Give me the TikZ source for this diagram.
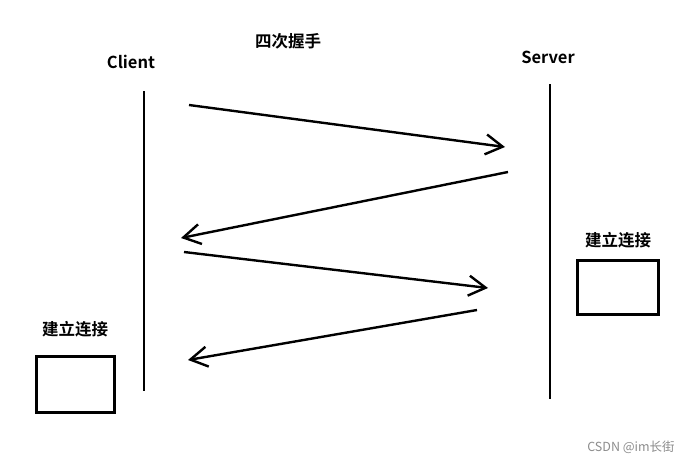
\documentclass[tikz,border=0pt]{standalone}
\usepackage{fontspec}
\setmainfont{Noto Sans CJK SC}[BoldFont={* Bold}]
\usetikzlibrary{arrows.meta}
\tikzset{
  lbl/.style={font=\fontsize{16.5}{18}\selectfont\bfseries, inner sep=0pt},
  life/.style={line width=2.6pt},
  msg/.style={line width=2.4pt, -{Straight Barb[length=17pt,width=20pt,line width=2.4pt]}},
  statebox/.style={draw, line width=2.8pt, minimum width=#1, inner sep=0pt},
  wm/.style={font=\fontsize{12.5}{14}\selectfont, text=black!45, inner sep=0pt}
}
\begin{document}
\begin{tikzpicture}[x=1pt,y=-1pt]
\useasboundingbox (0,0) rectangle (692,463);
\node[lbl] (title) at (288,41) {四次握手};
\node[lbl] (client) at (131,62) {Client};
\node[lbl] (server) at (548,57) {Server};
\coordinate (ct) at (144,91);
\coordinate (cb) at (144,391);
\coordinate (st) at (550,84);
\coordinate (sb) at (550,399);
\draw[life] (ct) -- (cb);
\draw[life] (st) -- (sb);
\coordinate (a1s) at (189,105); \coordinate (a1e) at (505,147);
\coordinate (a2s) at (508,172); \coordinate (a2e) at (181,238);
\coordinate (a3s) at (184,252); \coordinate (a3e) at (488,288);
\coordinate (a4s) at (477,310); \coordinate (a4e) at (188,360);
\draw[msg] (a1s) -- (a1e);
\draw[msg] (a2s) -- (a2e);
\draw[msg] (a3s) -- (a3e);
\draw[msg] (a4s) -- (a4e);
\node[lbl] (lconn) at (75,329) {建立连接};
\node[lbl] (rconn) at (618,240) {建立连接};
\node[draw, line width=2.8pt, minimum width=78pt, minimum height=56pt, inner sep=0pt] (lbox) at (75.5,384.5) {};
\node[draw, line width=2.8pt, minimum width=81pt, minimum height=54pt, inner sep=0pt] (rbox) at (618,287.5) {};
\node[wm] (wm) at (631,447) {CSDN @im长街};
\end{tikzpicture}
\end{document}
